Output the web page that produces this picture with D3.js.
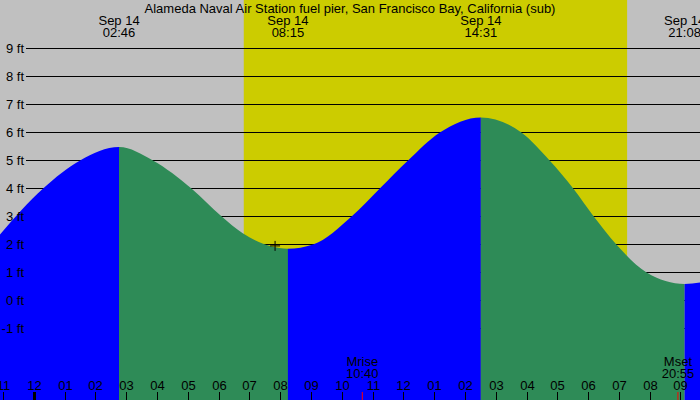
<!DOCTYPE html>
<html>
<head>
<meta charset="utf-8">
<script src="https://cdn.jsdelivr.net/npm/d3@7"></script>
<style>
  body { margin: 0; }
  svg { display: block; }
  text { font-family: "Liberation Sans", Arial, sans-serif; font-size: 13px; fill: #000; }
</style>
</head>
<body>
<div id="chart"></div>
<script>
// tide readings (ft) at times along the day
const curveTimes = ["2023-09-13 22:54", "2023-09-14 00:18", "2023-09-14 01:30", "2023-09-14 02:46",
  "2023-09-14 03:52", "2023-09-14 05:07", "2023-09-14 06:06", "2023-09-14 06:47", "2023-09-14 08:15",
  "2023-09-14 09:04", "2023-09-14 10:19", "2023-09-14 11:14", "2023-09-14 12:09", "2023-09-14 13:11",
  "2023-09-14 14:31", "2023-09-14 15:50", "2023-09-14 16:45", "2023-09-14 17:31", "2023-09-14 18:11",
  "2023-09-14 18:55", "2023-09-14 19:54", "2023-09-14 21:08", "2023-09-14 21:38"];
const curveFeet = [2.36, 4.0, 5.0, 5.48, 5.0, 4.0, 3.0, 2.4, 1.85, 2.0, 3.0, 4.0, 5.0, 6.0,
  6.54, 6.0, 5.0, 4.0, 3.0, 2.0, 1.0, 0.59, 0.64];

// highs and lows
const extremeTimes = ["2023-09-14 02:46", "2023-09-14 08:15", "2023-09-14 14:31", "2023-09-14 21:08"];
const extremeFeet = [5.48, 1.85, 6.54, 0.59];

// daylight and moon
const sunrise = "2023-09-14 06:49";
const sunset = "2023-09-14 19:16";
const moonLabels = ["Mrise", "Mset"];
const moonTimes = ["2023-09-14 10:40", "2023-09-14 20:55"];

// "now" marker
const markTime = "2023-09-14 07:50";
const markFeet = 1.95;

const feetTicks = [-1, 0, 1, 2, 3, 4, 5, 6, 7, 8, 9];
const title = "Alameda Naval Air Station fuel pier, San Francisco Bay, California (sub)";

const W = 700, H = 400;
const parse = d3.timeParse("%Y-%m-%d %H:%M");

const x = d3.scaleTime()
  .domain([parse("2023-09-13 22:54"), parse("2023-09-14 21:38")])
  .range([0, W]);
const y = d3.scaleLinear()
  .domain([-1, 9])
  .range([328.5, 48.5]);

const svg = d3.select("#chart").append("svg")
  .attr("width", W)
  .attr("height", H);

// night / day background
svg.append("rect").attr("width", W).attr("height", H).attr("fill", "#c0c0c0");
svg.append("rect")
  .attr("x", x(parse(sunrise)))
  .attr("width", x(parse(sunset)) - x(parse(sunrise)))
  .attr("height", H)
  .attr("fill", "#cccc00");

// grid lines (behind the water)
svg.append("g").selectAll("line")
  .data(feetTicks)
  .join("line")
    .attr("x1", 26).attr("x2", W)
    .attr("y1", d => y(d)).attr("y2", d => y(d))
    .attr("stroke", "#000").attr("stroke-width", 1);

// water area, coloured blue while rising and green while falling
const pts = curveTimes.map((t, i) => ({ t: parse(t), v: curveFeet[i] }));
const area = d3.area()
  .x(d => x(d.t))
  .y0(H)
  .y1(d => y(d.v))
  .curve(d3.curveMonotoneX);

const bounds = [x.domain()[0], ...extremeTimes.map(parse), x.domain()[1]];
const defs = svg.append("defs");
for (let i = 0; i < bounds.length - 1; i++) {
  const x0 = x(bounds[i]), x1 = x(bounds[i + 1]);
  defs.append("clipPath").attr("id", "seg" + i)
    .append("rect").attr("x", x0).attr("y", 0).attr("width", x1 - x0).attr("height", H);
  // segment ending at a high is rising
  const n = extremeFeet.length;
  const rising = i < n
    ? (i === 0 ? extremeFeet[0] > extremeFeet[1] : extremeFeet[i] > extremeFeet[i - 1])
    : extremeFeet[n - 1] < extremeFeet[n - 2];
  svg.append("path")
    .datum(pts)
    .attr("d", area)
    .attr("clip-path", `url(#seg${i})`)
    .attr("fill", rising ? "#0000ff" : "#2e8b57");
}

// y labels
svg.append("g").selectAll("text")
  .data(feetTicks)
  .join("text")
    .attr("x", 24)
    .attr("y", d => y(d) + 4.5)
    .attr("text-anchor", "end")
    .text(d => d + " ft");

// title
svg.append("text")
  .attr("x", 350).attr("y", 12.5)
  .attr("text-anchor", "middle")
  .text(title);

// high/low times at the top
const fmtDay = d3.timeFormat("%b %d");
const fmtTime = d3.timeFormat("%H:%M");
const topLbl = svg.append("g").selectAll("g")
  .data(extremeTimes.map(parse))
  .join("g")
    .attr("transform", d => `translate(${x(d)},0)`);
topLbl.append("text").attr("y", 24.5).attr("text-anchor", "middle").text(d => fmtDay(d));
topLbl.append("text").attr("y", 36.5).attr("text-anchor", "middle").text(d => fmtTime(d));

// now marker
const mx = x(parse(markTime)), my = y(markFeet);
svg.append("path")
  .attr("d", `M${mx - 5},${my}h10M${mx},${my - 5}v10`)
  .attr("stroke", "#000").attr("stroke-width", 1).attr("fill", "none");

// moon rise / set
const moon = svg.append("g").selectAll("g")
  .data(moonTimes.map((t, i) => ({ t: parse(t), label: moonLabels[i] })))
  .join("g")
    .attr("transform", d => `translate(${x(d.t)},0)`);
moon.append("line")
  .attr("x1", 0).attr("x2", 0).attr("y1", 392).attr("y2", H)
  .attr("stroke", "#ff0000");
moon.append("text").attr("y", 366).attr("text-anchor", "middle").text(d => d.label);
moon.append("text").attr("y", 378).attr("text-anchor", "middle").text(d => fmtTime(d.t));

// hour ticks along the bottom
const hours = x.ticks(d3.timeHour.every(1));
const fmtHour = d3.timeFormat("%I");
const hr = svg.append("g").selectAll("g")
  .data(hours)
  .join("g")
    .attr("transform", d => `translate(${Math.round(x(d)) + 0.5},0)`);
hr.append("line")
  .attr("y1", 392).attr("y2", H)
  .attr("stroke", "#000")
  .attr("stroke-width", d => d.getHours() === 0 ? 3 : 1);
hr.append("text")
  .attr("y", 390)
  .attr("text-anchor", "middle")
  .text(d => fmtHour(d));
</script>
</body>
</html>
